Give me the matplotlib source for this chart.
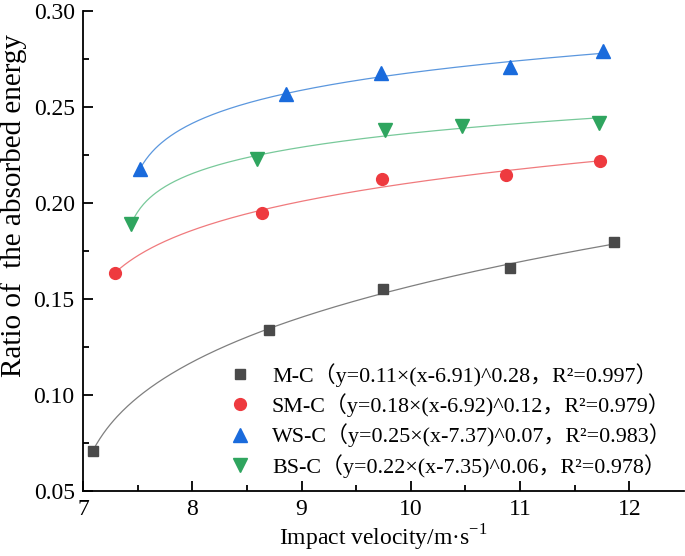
import numpy as np
import matplotlib
matplotlib.use('Agg')
import matplotlib.pyplot as plt

plt.rcParams['font.family'] = ['Liberation Serif', 'Noto Sans CJK SC']
plt.rcParams['mathtext.fontset'] = 'custom'
plt.rcParams['mathtext.rm'] = 'Liberation Serif'

# 数据
mc_x = [7.09, 8.70, 9.75, 10.91, 11.86]
mc_y = [0.0708, 0.1337, 0.1549, 0.1658, 0.1795]
smc_x = [7.29, 8.64, 9.74, 10.87, 11.73]
smc_y = [0.1634, 0.1945, 0.2122, 0.2144, 0.2217]
wsc_x = [7.52, 8.86, 9.73, 10.91, 11.76]
wsc_y = [0.2174, 0.2565, 0.2677, 0.2705, 0.2792]
bsc_x = [7.44, 8.59, 9.76, 10.47, 11.72]
bsc_y = [0.1887, 0.2228, 0.2379, 0.2399, 0.2417]

# 拟合公式 y = a*(x-b)^c（图例中的数值）
fit_a = [0.11, 0.18, 0.25, 0.22]
fit_b = [6.91, 6.92, 7.37, 7.35]
fit_c = [0.28, 0.12, 0.07, 0.06]
r2 = ['0.997', '0.979', '0.983', '0.978']
names = ['M-C', 'SM-C', 'WS-C', 'BS-C']

xs = [mc_x, smc_x, wsc_x, bsc_x]
ys = [mc_y, smc_y, wsc_y, bsc_y]
markers = ['s', 'o', '^', 'v']
msizes = [7.5, 8.5, 9.5, 9.5]
mcolors = ['#4a4a4a', '#ee3a3f', '#1a6bdc', '#2fa55f']
lcolors = ['#7f7f7f', '#f07a7d', '#5b97de', '#78c99a']

fig = plt.figure(figsize=(6.85, 5.56), dpi=100)
ax = fig.add_axes([0.1212, 0.1175, 0.8773, 0.8633])

for i in range(4):
    x = np.array(xs[i])
    y = np.array(ys[i])
    # 以图例中的 b 为偏移，对数据重新拟合 a、c，使曲线穿过数据点
    c, loga = np.polyfit(np.log(x - fit_b[i]), np.log(y), 1)
    xf = np.linspace(x[0], x[-1], 300)
    yf = np.exp(loga) * (xf - fit_b[i]) ** c
    ax.plot(xf, yf, color=lcolors[i], lw=0.9, zorder=2)
    lab = f"{names[i]}（y={fit_a[i]:.2f}×(x-{fit_b[i]:.2f})^{fit_c[i]:.2f}，R²={r2[i]}）"
    ax.plot(x, y, ls='none', marker=markers[i], ms=msizes[i],
            color=mcolors[i], label=lab, zorder=3)

ax.set_xlim(7, 12.5)
ax.set_ylim(0.05, 0.30)
ax.set_xticks([7, 8, 9, 10, 11, 12])
ax.set_xticks(np.arange(7.5, 12.5, 1), minor=True)
ax.set_yticks([0.05, 0.10, 0.15, 0.20, 0.25, 0.30])
ax.set_yticks(np.arange(0.075, 0.3, 0.05), minor=True)
ax.set_yticklabels(['0.05', '0.10', '0.15', '0.20', '0.25', '0.30'])

ax.spines['top'].set_visible(False)
ax.spines['right'].set_visible(False)
ax.spines['left'].set_linewidth(1.3)
ax.spines['bottom'].set_linewidth(1.3)
ax.tick_params(which='major', direction='in', length=7, width=1.3, labelsize=17, pad=6)
ax.tick_params(which='minor', direction='in', length=4.5, width=1.3)

ax.set_xlabel('Impact velocity/m·s$^{-1}$', fontsize=17, labelpad=2)
ax.set_ylabel('Ratio of  the absorbed energy', fontsize=21)
ax.yaxis.set_label_coords(-0.093, 0.594)

leg = ax.legend(loc='upper left', bbox_to_anchor=(0.225, 0.289), frameon=False,
                fontsize=15.8, handlelength=1.0, handletextpad=0.95,
                labelspacing=0.3, borderpad=0)

fig.savefig('out.png', dpi=100)
